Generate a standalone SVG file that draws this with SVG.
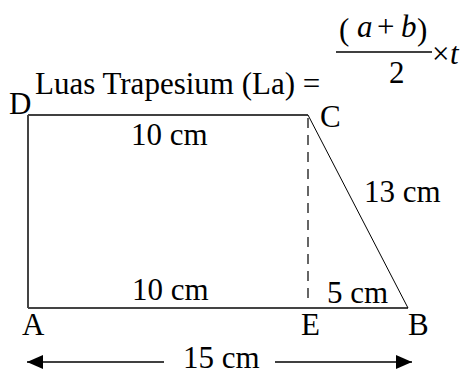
<svg xmlns="http://www.w3.org/2000/svg" width="469" height="374" viewBox="0 0 469 374">
<style>
text{font-family:'Liberation Serif','Times New Roman',serif;font-size:31px;fill:#000}
.it{font-style:italic}
.ln{stroke:#000;fill:none}
</style>
<defs>
<marker id="ah" viewBox="0 0 16 14" refX="16" refY="7" markerWidth="16" markerHeight="14" markerUnits="userSpaceOnUse" orient="auto">
<path d="M0,0 L16,7 L0,14 Z" fill="#000"/>
</marker>
</defs>
<rect width="469" height="374" fill="#fff"/>
<g id="title">
<text x="35" y="94" font-size="31.5">Luas Trapesium (La) =</text>
</g>
<g id="formula">
<text x="339" y="40" font-size="38">(</text>
<text x="357" y="37" class="it" font-size="32">a</text>
<text x="377" y="37" font-size="32">+</text>
<text x="401" y="37" class="it" font-size="32">b</text>
<text x="417" y="40" font-size="38">)</text>
<line x1="336" y1="52" x2="432" y2="52" class="ln" stroke-width="1.5"/>
<text x="389" y="83" font-size="32">2</text>
<text x="432" y="64">×</text>
<text x="450" y="64" class="it">t</text>
</g>
<g id="connectors">
<line x1="28" y1="115" x2="308" y2="115" class="ln" stroke-width="1.5"/>
<line x1="28" y1="115" x2="28" y2="308" stroke="#444" stroke-width="2"/>
<line x1="28" y1="308" x2="408" y2="308" stroke="#444" stroke-width="2"/>
<line x1="308" y1="115" x2="408" y2="308" class="ln" stroke-width="1"/>
<line x1="308" y1="118" x2="308" y2="298" class="ln" stroke-width="1.2" stroke-dasharray="10,7"/>
<line x1="164" y1="362" x2="27" y2="362" class="ln" stroke-width="1.5" marker-end="url(#ah)"/>
<line x1="275" y1="362" x2="412" y2="362" class="ln" stroke-width="1.5" marker-end="url(#ah)"/>
</g>
<g id="labels">
<text x="9" y="114">D</text>
<text x="320" y="127">C</text>
<text x="22" y="335">A</text>
<text x="301" y="335">E</text>
<text x="408" y="335">B</text>
<text x="131" y="145">10 cm</text>
<text x="364" y="202">13 cm</text>
<text x="132" y="300">10 cm</text>
<text x="327" y="303">5 cm</text>
<text x="183" y="368">15 cm</text>
</g>
</svg>
